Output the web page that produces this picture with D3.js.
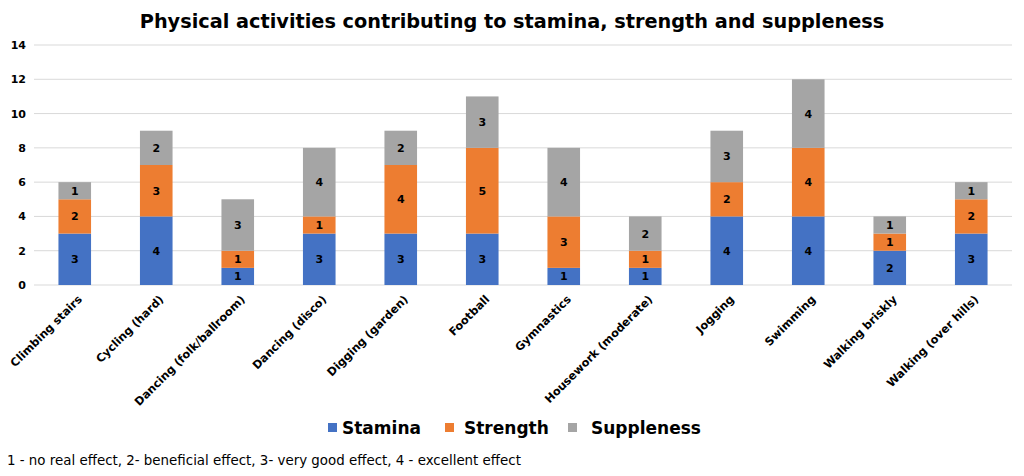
<!DOCTYPE html>
<html>
<head>
<meta charset="utf-8">
<script src="https://cdn.jsdelivr.net/npm/d3@7"></script>
<style>
  body { margin: 0; background: #fff; }
  svg { font-family: "DejaVu Sans", Verdana, sans-serif; }
</style>
</head>
<body>
<div id="chart"></div>
<script>
// Chart data
const activities = ["Climbing stairs", "Cycling (hard)", "Dancing (folk/ballroom)", "Dancing (disco)",
    "Digging (garden)", "Football", "Gymnastics", "Housework (moderate)", "Jogging", "Swimming",
    "Walking briskly", "Walking (over hills)"];
const stamina    = [3, 4, 1, 3, 3, 3, 1, 1, 4, 4, 2, 3];
const strength   = [2, 3, 1, 1, 4, 5, 3, 1, 2, 4, 1, 2];
const suppleness = [1, 2, 3, 4, 2, 3, 4, 2, 3, 4, 1, 1];
const seriesNames = ["Stamina", "Strength", "Suppleness"];
const yTicks = [0, 2, 4, 6, 8, 10, 12, 14];

const width = 1024, height = 476;
const colors = ["#4472C4", "#ED7D31", "#A5A5A5"];

const svg = d3.select("#chart")
    .append("svg")
    .attr("width", width)
    .attr("height", height);

const rows = activities.map((a, i) => ({
    name: a, Stamina: stamina[i], Strength: strength[i], Suppleness: suppleness[i]
}));
const stacked = d3.stack().keys(seriesNames)(rows);

const x = d3.scaleBand()
    .domain(activities)
    .range([34, 1012])
    .paddingInner(0.6)
    .paddingOuter(0.3);

const y = d3.scaleLinear()
    .domain([0, 14])
    .range([285, 45]);

// title
svg.append("text")
    .attr("x", 512)
    .attr("y", 28)
    .attr("text-anchor", "middle")
    .style("font-size", "19.3px")
    .style("font-weight", "bold")
    .text("Physical activities contributing to stamina, strength and suppleness");

// gridlines
svg.append("g")
    .selectAll("line")
    .data(yTicks)
    .enter()
    .append("line")
    .attr("x1", 34)
    .attr("x2", 1012)
    .attr("y1", d => y(d))
    .attr("y2", d => y(d))
    .attr("stroke", "#d9d9d9")
    .attr("stroke-width", 1);

// y axis labels
const yAxis = svg.append("g")
    .attr("transform", "translate(26,0)")
    .call(d3.axisLeft(y).tickValues(yTicks).tickSize(0).tickPadding(0));
yAxis.select(".domain").remove();
yAxis.selectAll("text")
    .style("font-family", "DejaVu Sans, Verdana, sans-serif")
    .style("font-size", "11px")
    .style("font-weight", "bold")
    .attr("fill", "#000");

// bars
const groups = svg.append("g")
    .selectAll("g")
    .data(stacked)
    .enter()
    .append("g")
    .attr("fill", (d, i) => colors[i]);

groups.selectAll("rect")
    .data(d => d)
    .enter()
    .append("rect")
    .attr("x", d => x(d.data.name))
    .attr("y", d => y(d[1]))
    .attr("width", x.bandwidth())
    .attr("height", d => y(d[0]) - y(d[1]));

groups.selectAll("text")
    .data(d => d)
    .enter()
    .append("text")
    .attr("x", d => x(d.data.name) + x.bandwidth() / 2)
    .attr("y", d => (y(d[0]) + y(d[1])) / 2 + 4)
    .attr("text-anchor", "middle")
    .attr("fill", "#000")
    .style("font-size", "11px")
    .style("font-weight", "bold")
    .text(d => d[1] - d[0]);

// x axis labels
svg.append("g")
    .selectAll("text")
    .data(activities)
    .enter()
    .append("text")
    .attr("transform", d => `translate(${x(d) + x.bandwidth() / 2 + 8},${300}) rotate(-45)`)
    .attr("text-anchor", "end")
    .style("font-size", "11.3px")
    .style("font-weight", "bold")
    .text(d => d);

// legend
const legendX = [328, 445, 568];
const legendTextX = [342, 464, 591];
const legend = svg.append("g")
    .selectAll("g")
    .data(seriesNames)
    .enter()
    .append("g");
legend.append("rect")
    .attr("x", (d, i) => legendX[i])
    .attr("y", 423)
    .attr("width", 9)
    .attr("height", 9)
    .attr("fill", (d, i) => colors[i]);
legend.append("text")
    .attr("x", (d, i) => legendTextX[i])
    .attr("y", 434)
    .style("font-size", "17px")
    .style("font-weight", "bold")
    .text(d => d);

// footnote
svg.append("text")
    .attr("x", 7)
    .attr("y", 465)
    .style("font-size", "13.4px")
    .text("1 - no real effect, 2- beneficial effect, 3- very good effect, 4 - excellent effect");
</script>
</body>
</html>
